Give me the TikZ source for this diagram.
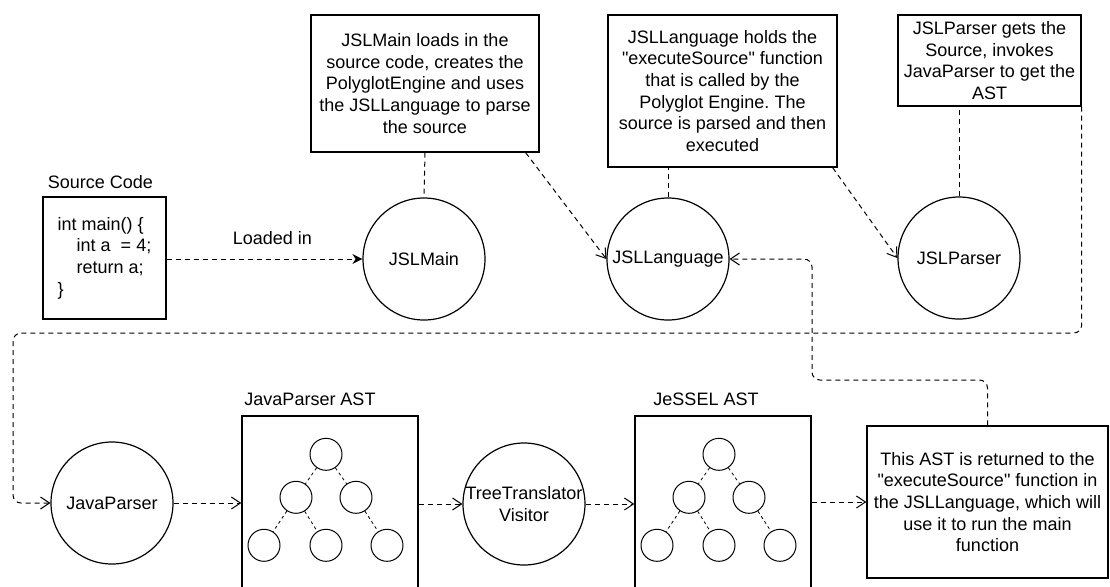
\documentclass[tikz,border=0pt]{standalone}
\usepackage{fontspec}
\setmainfont{Liberation Sans}[Ligatures=TeXOff]
\usetikzlibrary{arrows.meta,positioning}
\frenchspacing

\begin{document}
\begin{tikzpicture}[
  x=0.5pt, y=-0.5pt,
  font=\fontsize{9}{10.85}\selectfont,
  note/.style={draw, line width=0.7pt, align=center, inner sep=0pt},
  proc/.style={draw, circle, line width=0.6pt, minimum size=61pt, inner sep=0pt, align=center},
  leaf/.style={draw, circle, line width=0.5pt, minimum size=16pt, inner sep=0pt},
  title/.style={inner sep=1pt},
  tie/.style={dash pattern=on 2.5pt off 2pt, line width=0.5pt, rounded corners=4pt},
  link/.style={tie, -{Straight Barb[length=4.5pt,width=6pt]}},
  branch/.style={dash pattern=on 1.5pt off 1.5pt, line width=0.4pt}
]
  \clip (0,0) rectangle (1110,586);

  % top row
  \node[note, minimum width=61.5pt, minimum height=61pt, align=left] (srcbox) at (104.5,258)
    {int main() \{\\\hspace*{9.5pt}int a\ \ = 4;\\\hspace*{9.5pt}return a;\\\}};
  \node[title, above=2.75pt of srcbox.north, xshift=-2pt] (srctitle) {Source Code};

  \node[note, minimum width=114pt, minimum height=68.5pt] (mainnote) at (425,83.5)
    {JSLMain loads in the\\source code, creates the\\PolyglotEngine and uses\\the JSLLanguage to parse\\the source};
  \node[note, minimum width=114.5pt, minimum height=76pt] (langnote) at (722.5,91)
    {JSLLanguage holds the\\"executeSource" function\\that is called by the\\Polyglot Engine. The\\source is parsed and then\\executed};
  \node[note, minimum width=91.5pt, minimum height=45.5pt] (parsernote) at (989.5,60.5)
    {JSLParser gets the\\Source, invokes\\JavaParser to get the\\AST};

  \node[proc] (main) at (424,259) {JSLMain};
  \node[proc] (lang) at (668,259) {JSLLanguage};
  \node[proc] (parser) at (959,258) {JSLParser};

  % bottom row
  \node[proc] (jp) at (112,503) {JavaParser};
  \node[note, minimum width=88pt, minimum height=94pt] (jpast) at (330,510) {};
  \node[title, above=3.5pt of jpast.north, xshift=-10pt] (jptitle) {JavaParser AST};
  \node[proc] (ttv) at (524,504) {TreeTranslator\\Visitor};
  \node[note, minimum width=88pt, minimum height=94pt] (jsast) at (723,510) {};
  \node[title, above=3.5pt of jsast.north, xshift=-8.5pt] (jstitle) {JeSSEL AST};
  \node[note, minimum width=120.5pt, minimum height=76pt] (retnote) at (987.5,502)
    {This AST is returned to the\\"executeSource" function in\\the JSLLanguage, which will\\use it to run the main\\function};

  % the two trees
  \foreach \b in {jpast,jsast} {
    \node[leaf] (\b-r) at ([shift={(-4,39)}]\b.north) {};
    \node[leaf] (\b-a) at ([shift={(-34,82)}]\b.north) {};
    \node[leaf] (\b-b) at ([shift={(26,82)}]\b.north) {};
    \node[leaf] (\b-c) at ([shift={(-66,130)}]\b.north) {};
    \node[leaf] (\b-d) at ([shift={(-4,130)}]\b.north) {};
    \node[leaf] (\b-e) at ([shift={(57,130)}]\b.north) {};
    \draw[branch] (\b-r) -- (\b-a);
    \draw[branch] (\b-r) -- (\b-b);
    \draw[branch] (\b-a) -- (\b-c);
    \draw[branch] (\b-a) -- (\b-d);
    \draw[branch] (\b-b) -- (\b-e);
  }

  \coordinate (busy) at (0,333);
  \coordinate (busx) at (13,0);
  \coordinate (back) at (812,380);

  % connectors
  \draw[link, -{Stealth[length=5pt,width=5pt]}] (srcbox.east |- main) -- node[pos=0.54, yshift=10.5pt] (loaded) {Loaded in} (main.west);
  \draw[tie] (mainnote.south) -- (main.north);
  \draw[link] ([xshift=-7pt]mainnote.south east) -- (lang.west);
  \draw[tie] (lang.north) -- (lang.north |- langnote.south);
  \draw[link] ([xshift=-2.5pt]langnote.south east) -- (parser.west);
  \draw[tie] (parser.north) -- (parser.north |- parsernote.south);
  \draw[link] (parsernote.south east) -- (parsernote.south east |- busy) -- (busx |- busy) -- (busx |- jp) -- (jp.west);
  \draw[link] (jp.east) -- (jp.east -| jpast.west);
  \draw[link] (jpast.east |- ttv) -- (ttv.west);
  \draw[link] (ttv.east) -- (ttv.east -| jsast.west);
  \draw[link] (jsast.east |- retnote) -- (retnote.west);
  \draw[link] (retnote.north) |- (back) -- (back |- lang.east) -- (lang.east);
\end{tikzpicture}
\end{document}
